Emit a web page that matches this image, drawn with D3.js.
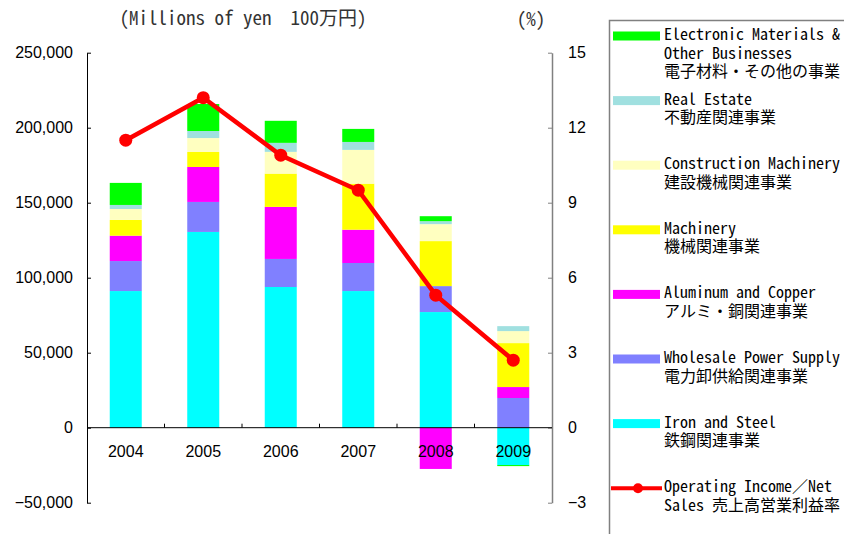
<!DOCTYPE html>
<html>
<head>
  <meta charset="utf-8">
  <title>Segment operating income</title>
  <script src="https://cdnjs.cloudflare.com/ajax/libs/d3/7.8.5/d3.min.js"></script>
  <style>
    body { margin: 0; background: #fff; }
    svg { display: block; }
  </style>
</head>
<body>
  <div id="vis"></div>
  <script>
var years = ["2004", "2005", "2006", "2007", "2008", "2009"];

// operating income by segment, millions of yen
var ironSteel        = [91100, 130500, 93800, 91100, 77100, -24900];
var wholesalePower   = [20000, 20000, 18700, 18700, 17300, 19800];
var aluminumCopper   = [16900, 23300, 34700, 22200, -27500, 7300];
var machinery        = [10500, 10000, 22200, 30700, 30000, 29300];
var constructionMach = [7300, 9300, 14500, 22500, 11300, 8000];
var realEstate       = [2700, 4700, 6000, 5300, 2000, 3300];
var electronicOther  = [14700, 18000, 14700, 8700, 3300, -700];

// operating income / net sales (%)
var margin = [11.5, 13.2, 10.9, 9.5, 5.3, 2.7];

var leftTicks  = [-50000, 0, 50000, 100000, 150000, 200000, 250000];
var rightTicks = [-3, 0, 3, 6, 9, 12, 15];

var seriesKeys = ["iron", "power", "alu", "mach", "cons", "real", "elec"];
var seriesVals = [ironSteel, wholesalePower, aluminumCopper, machinery, constructionMach, realEstate, electronicOther];
var seriesColors = ["#00ffff", "#8080ff", "#ff00ff", "#ffff00", "#ffffc0", "#a0e0e0", "#00ff00"];

var legendItems = [
  {key: "elec",  lines: ["Electronic Materials &", "Other Businesses", "電子材料・その他の事業"]},
  {key: "real",  lines: ["Real Estate", "不動産関連事業"]},
  {key: "cons",  lines: ["Construction Machinery", "建設機械関連事業"]},
  {key: "mach",  lines: ["Machinery", "機械関連事業"]},
  {key: "alu",   lines: ["Aluminum and Copper", "アルミ・銅関連事業"]},
  {key: "power", lines: ["Wholesale Power Supply", "電力卸供給関連事業"]},
  {key: "iron",  lines: ["Iron and Steel", "鉄鋼関連事業"]},
  {key: "line",  lines: ["Operating Income／Net", "Sales 売上高営業利益率"]}
];

var W = 844, H = 534;
var plotL = 87, plotR = 552, plotT = 52.7, plotB = 502.7;
var monoFont = "'Noto Sans Mono CJK JP', 'Liberation Mono', 'Noto Sans CJK JP', monospace";
var sansFont = "'Liberation Sans', Arial, sans-serif";

var table = years.map(function(yr, i) {
  var row = {year: yr};
  seriesKeys.forEach(function(k, j) { row[k] = seriesVals[j][i]; });
  return row;
});
var color = d3.scaleOrdinal().domain(seriesKeys).range(seriesColors);

var svg = d3.select("#vis").append("svg")
  .attr("width", W).attr("height", H);

var x = d3.scaleBand().domain(years).range([plotL, plotR])
  .paddingInner(0.587).paddingOuter(0.2935);
var y = d3.scaleLinear().domain([-50000, 250000]).range([plotB, plotT]);
var yR = d3.scaleLinear().domain([-3, 15]).range([plotB, plotT]);

var stacked = d3.stack().keys(seriesKeys).offset(d3.stackOffsetDiverging)(table);

svg.append("g").selectAll("g").data(stacked).enter().append("g")
  .attr("fill", function(d) { return color(d.key); })
  .selectAll("rect").data(function(d) { return d; }).enter().append("rect")
  .attr("x", function(d) { return x(d.data.year); })
  .attr("width", x.bandwidth())
  .attr("y", function(d) { return y(Math.max(d[0], d[1])); })
  .attr("height", function(d) { return Math.abs(y(d[0]) - y(d[1])); });

// left axis
var axL = svg.append("g").attr("transform", "translate(" + plotL + ",0)")
  .call(d3.axisLeft(y).tickValues(leftTicks).tickFormat(d3.format(","))
    .tickSizeInner(-4).tickSizeOuter(0).tickPadding(14));
axL.select(".domain").attr("stroke", "#000");
axL.selectAll(".tick line").attr("stroke", "#000");
axL.selectAll("text").attr("font-family", sansFont).attr("font-size", 16).attr("fill", "#000");

// right axis
var axR = svg.append("g").attr("transform", "translate(" + plotR + ",0)")
  .call(d3.axisRight(yR).tickValues(rightTicks)
    .tickSizeInner(-4).tickSizeOuter(0).tickPadding(16));
axR.select(".domain").attr("stroke", "#808080").attr("stroke-width", 1.5);
axR.selectAll(".tick line").attr("stroke", "#808080");
axR.selectAll("text").attr("font-family", sansFont).attr("font-size", 16).attr("fill", "#000");

// zero line with category separators
var y0 = y(0);
svg.append("line").attr("x1", plotL).attr("x2", plotR).attr("y1", y0).attr("y2", y0)
  .attr("stroke", "#000");
var gap = (x.step() - x.bandwidth()) / 2;
svg.selectAll("line.sep").data(years.slice(1)).enter().append("line")
  .attr("class", "sep")
  .attr("x1", function(d) { return x(d) - gap; })
  .attr("x2", function(d) { return x(d) - gap; })
  .attr("y1", y0).attr("y2", y0 - 4)
  .attr("stroke", "#000");

svg.selectAll("text.year").data(years).enter().append("text")
  .attr("class", "year")
  .attr("x", function(d) { return x(d) + x.bandwidth() / 2; })
  .attr("y", y0 + 29)
  .attr("text-anchor", "middle")
  .attr("font-family", sansFont).attr("font-size", 16)
  .text(function(d) { return d; });

// margin line
var line = d3.line()
  .x(function(d, i) { return x(years[i]) + x.bandwidth() / 2; })
  .y(function(d) { return yR(d); });
svg.append("path").datum(margin)
  .attr("d", line).attr("fill", "none")
  .attr("stroke", "#ff0000").attr("stroke-width", 4.5);
svg.selectAll("circle.pt").data(margin).enter().append("circle")
  .attr("class", "pt")
  .attr("cx", function(d, i) { return x(years[i]) + x.bandwidth() / 2; })
  .attr("cy", function(d) { return yR(d); })
  .attr("r", 6.5).attr("fill", "#ff0000");

// unit labels
svg.append("text").attr("x", 243).attr("y", 25).attr("text-anchor", "middle")
  .attr("font-family", monoFont).attr("font-size", 19).attr("fill", "#333")
  .style("white-space", "pre")
  .text("(Millions of yen  100万円)");
svg.append("text").attr("x", 531).attr("y", 26).attr("text-anchor", "middle")
  .attr("font-family", monoFont).attr("font-size", 19).attr("fill", "#333")
  .text("(%)");

// legend
svg.append("rect").attr("x", 609.5).attr("y", 20.5).attr("width", 400).attr("height", 600)
  .attr("fill", "none").attr("stroke", "#808080").attr("stroke-width", 1.5);

var lg = svg.append("g").selectAll("g").data(legendItems).enter().append("g")
  .attr("transform", function(d, i) { return "translate(0," + (36 + i * 64.6) + ")"; });

lg.filter(function(d) { return d.key !== "line"; }).append("rect")
  .attr("x", 613).attr("y", -4.5).attr("width", 47).attr("height", 9)
  .attr("fill", function(d) { return color(d.key); });

var lineItem = lg.filter(function(d) { return d.key === "line"; });
lineItem.append("line").attr("x1", 611).attr("x2", 662).attr("y1", 0).attr("y2", 0)
  .attr("stroke", "#ff0000").attr("stroke-width", 4);
lineItem.append("circle").attr("cx", 638).attr("cy", 0).attr("r", 5).attr("fill", "#ff0000");

lg.selectAll("text").data(function(d) { return d.lines; }).enter().append("text")
  .attr("font-family", monoFont).attr("font-size", 16).attr("fill", "#000")
  .attr("x", 664)
  .attr("y", function(d, i) { return 4 + i * 18.5; })
  .text(function(d) { return d; });
  </script>
</body>
</html>
